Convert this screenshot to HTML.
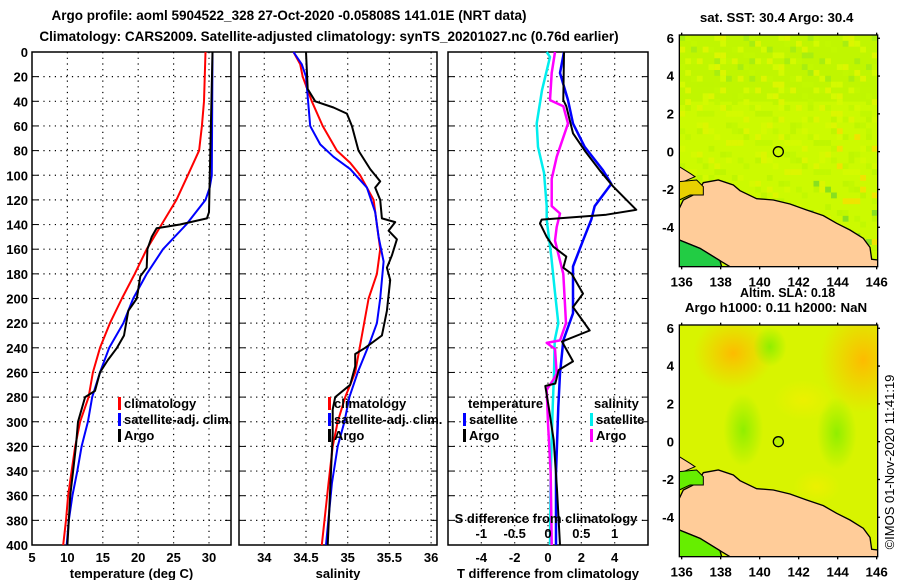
<!DOCTYPE html>
<html><head><meta charset="utf-8">
<style>
html,body{margin:0;padding:0;background:#fff;}
svg{display:block;font-family:"Liberation Sans",sans-serif;font-weight:bold;}
</style></head>
<body>
<svg id="chart" width="900" height="580" viewBox="0 0 900 580" xmlns="http://www.w3.org/2000/svg">
<defs>
<radialGradient id="or1" cx="0.5" cy="0.5" r="0.5"><stop offset="0" stop-color="#ffb800" stop-opacity="0.95"/><stop offset="1" stop-color="#ffc000" stop-opacity="0"/></radialGradient>
<radialGradient id="gr1" cx="0.5" cy="0.5" r="0.5"><stop offset="0" stop-color="#88ee00" stop-opacity="0.9"/><stop offset="1" stop-color="#88ee00" stop-opacity="0"/></radialGradient>
<radialGradient id="ye1" cx="0.5" cy="0.5" r="0.5"><stop offset="0" stop-color="#eef000" stop-opacity="0.9"/><stop offset="1" stop-color="#eef000" stop-opacity="0"/></radialGradient>
<clipPath id="m1clip"><rect x="88" y="105" width="595" height="695"/></clipPath>
</defs>
<text x="289" y="20" font-size="13.5" text-anchor="middle">Argo profile: aoml 5904522_328 27-Oct-2020 -0.05808S 141.01E (NRT data)</text>
<text x="329" y="41" font-size="13.5" text-anchor="middle">Climatology: CARS2009. Satellite-adjusted climatology: synTS_20201027.nc (0.76d earlier)</text>
<g id="panels"></g>

<!-- Map 1 -->
<g transform="translate(650,0) scale(0.33333)">
  <text x="380" y="66" font-size="40" text-anchor="middle">sat. SST: 30.4 Argo: 30.4</text>
  <g clip-path="url(#m1clip)">
    <rect x="88" y="105" width="595" height="695" fill="#ccfa00"/>
    <rect x="88" y="105" width="595" height="200" fill="#b8f400" opacity="0.6"/>
    <g id="sstcells"></g>
    <path d="M88,625 L100,600 L130,585 L150,565 L160,548 L205,540 L250,555 L270,572 L320,596 L370,600 L420,612 L470,630 L520,647 L560,670 L600,690 L640,715 L660,742 L665,778 L683,780 L683,800 L240,800 L210,782 L150,745 L88,720 Z" fill="#ffcc99" stroke="#000" stroke-width="4"/>
    <path d="M88,720 L150,745 L210,782 L215,800 L88,800 Z" fill="#22cc44" stroke="#000" stroke-width="4"/>
    <path d="M88,500 L120,520 L135,530 L100,545 L88,545 Z" fill="#ffcc99" stroke="#000" stroke-width="3"/>
    <path d="M88,545 L140,540 L160,560 L160,585 L120,585 L88,600 Z" fill="#e8d000" stroke="#000" stroke-width="3"/>
  </g>
  <rect x="88" y="105" width="595" height="695" fill="none" stroke="#000" stroke-width="4"/>
  <circle cx="385" cy="455" r="15" fill="none" stroke="#000" stroke-width="4"/>
  <g id="m1axes"></g>
</g>
<text x="740" y="297" font-size="12.5">Altim. SLA: 0.18</text>

<!-- Map 2 -->
<g transform="translate(650,290) scale(0.33333)">
  <text x="378" y="66" font-size="40" text-anchor="middle">Argo h1000: 0.11 h2000: NaN</text>
  <g clip-path="url(#m1clip)">
    <rect x="88" y="105" width="595" height="695" fill="#d8f400"/>
    <ellipse cx="250" cy="190" rx="120" ry="110" fill="url(#or1)"/>
    <ellipse cx="640" cy="210" rx="130" ry="160" fill="url(#or1)"/>
    <ellipse cx="360" cy="170" rx="50" ry="60" fill="url(#gr1)"/>
    <ellipse cx="280" cy="420" rx="60" ry="110" fill="url(#gr1)"/>
    <ellipse cx="560" cy="430" rx="60" ry="110" fill="url(#gr1)"/>
    <ellipse cx="460" cy="330" rx="90" ry="60" fill="url(#ye1)"/>
    <ellipse cx="500" cy="590" rx="70" ry="50" fill="url(#ye1)"/>
    <path d="M88,625 L100,600 L130,585 L150,565 L160,548 L205,540 L250,555 L270,572 L320,596 L370,600 L420,612 L470,630 L520,647 L560,670 L600,690 L640,715 L660,742 L665,778 L683,780 L683,800 L240,800 L210,782 L150,745 L88,720 Z" fill="#ffcc99" stroke="#000" stroke-width="4"/>
    <path d="M88,720 L150,745 L210,782 L215,800 L88,800 Z" fill="#66ee00" stroke="#000" stroke-width="4"/>
    <path d="M88,500 L120,520 L135,530 L100,545 L88,545 Z" fill="#ffcc99" stroke="#000" stroke-width="3"/>
    <path d="M88,545 L140,540 L160,560 L160,585 L120,585 L88,600 Z" fill="#66ee00" stroke="#000" stroke-width="3"/>
  </g>
  <rect x="88" y="105" width="595" height="695" fill="none" stroke="#000" stroke-width="4"/>
  <circle cx="385" cy="455" r="15" fill="#b8f000" stroke="#000" stroke-width="4"/>
  <g id="m2axes"></g>
</g>
<text transform="translate(894,462) rotate(-90)" font-size="13" font-weight="normal" text-anchor="middle">©IMOS 01-Nov-2020 11:41:19</text>
</svg>
<script>
// ---- data ----
var depthTicks = [0,20,40,60,80,100,120,140,160,180,200,220,240,260,280,300,320,340,360,380,400];
var tempTicks = [5,10,15,20,25,30];
var salTicks = [34,34.5,35,35.5,36];
var tdiffTicks = [-4,-2,0,2,4];
var sdiffTicks = [-1,-0.5,0,0.5,1];
var sdiffTickLabels = ["-1","-0.5","0","0.5","1"];

var climTDepth = [0,40,60,80,100,120,140,160,180,200,220,240,260,280,300,320,340,360,380,400];
var climTVal   = [29.5,29.3,29.0,28.6,27.0,25.4,23.3,21.2,19.5,17.7,16.0,14.6,13.6,13.0,11.8,11.1,10.6,10.1,9.8,9.4];
var satTDepth = [0,100,110,120,140,160,180,200,220,240,260,280,300,320,340,360,380,400];
var satTVal   = [30.5,30.4,30.1,29.5,26.8,23.5,21.2,19.3,17.9,15.9,14.6,13.5,12.9,12.0,11.4,10.7,10.2,9.9];
var argoTDepth = [0,130,135,140,143,150,160,175,182,200,210,230,240,250,260,275,280,300,320,340,360,380,400];
var argoTVal   = [30.5,30.0,29.7,25.9,22.6,21.9,21.3,21.2,20.3,19.8,18.6,18.0,17.0,15.7,14.6,13.9,12.5,11.5,11.2,10.8,10.4,10.2,10.0];

var climSDepth = [0,10,20,40,60,80,90,100,120,140,160,180,200,230,260,280,300,320,350,400];
var climSVal   = [34.35,34.43,34.46,34.57,34.70,34.87,35.03,35.15,35.31,35.35,35.39,35.35,35.25,35.17,35.09,34.97,34.88,34.82,34.77,34.69];
var satSDepth = [0,10,20,60,75,85,95,110,130,150,170,200,220,235,260,280,300,320,350,400];
var satSVal   = [34.35,34.45,34.50,34.55,34.67,34.83,35.03,35.23,35.33,35.37,35.43,35.39,35.35,35.27,35.12,35.02,34.96,34.88,34.81,34.74];
var argoSDepth = [0,30,40,45,50,60,80,95,105,110,120,135,138,145,152,165,175,185,210,230,240,245,255,270,280,290,310,340,400];
var argoSVal   = [34.50,34.52,34.61,34.83,34.99,35.05,35.13,35.27,35.39,35.33,35.39,35.41,35.57,35.49,35.59,35.53,35.47,35.51,35.47,35.41,35.21,35.09,35.09,35.03,34.85,34.82,34.82,34.80,34.76];

var dTSatDepth = [0,17,39,58,77,96,107,125,136,153,174,212,234,261,288,342,400];
var dTSatVal   = [0.96,0.72,1.2,1.5,2.2,3.3,3.8,2.8,2.6,2.1,1.5,1.5,0.92,0.72,0.62,0.48,0.48];
var dTArgoDepth = [0,39,44,66,80,96,109,128,132,136,139,150,158,166,175,180,196,207,226,235,251,258,269,271,288,315,355,400];
var dTArgoVal   = [0.96,0.92,1.1,1.5,2.2,3.1,3.9,5.3,3.5,-0.38,-0.48,-0.08,0.32,1.1,0.92,1.42,2.1,1.5,2.5,0.84,1.5,0.64,0.44,-0.16,0.04,0.34,0.54,0.72];
var dSSatDepth = [0,4,31,58,77,98,125,136,166,193,220,234,261,288,342,400];
var dSSatVal   = [-0.02,0.03,-0.09,-0.17,-0.15,-0.06,-0.02,-0.02,0.05,0.10,0.155,0.10,0.09,0.07,0.04,0.03];
var dSArgoDepth = [0,17,39,44,58,85,103,125,131,142,153,180,220,234,236,241,261,266,274,301,342,400];
var dSArgoVal   = [0.105,0.055,0.03,0.23,0.30,0.13,0.055,0.055,0.18,0.13,0.105,0.23,0.27,0.18,-0.02,0.105,0.13,0.08,-0.02,0.0,0.04,0.055];

var lonTicks = [136,138,140,142,144,146];
var latTicks = [6,4,2,0,-2,-4];

// ---- geometry ----
var NS = "http://www.w3.org/2000/svg";
var TOP = 52, BOT = 545;
function yD(d){ return TOP + (d/400)*(BOT-TOP); }
function mk(tag, attrs, parent){
  var e = document.createElementNS(NS, tag);
  for (var k in attrs) e.setAttribute(k, attrs[k]);
  (parent || document.getElementById('panels')).appendChild(e);
  return e;
}
var panels = [
  {name:'temperature-panel', x0:32, x1:231, vmin:5, vmax:5+199/7.08, ticks:tempTicks, title:'temperature (deg C)'},
  {name:'salinity-panel', x0:239, x1:437, vmin:34-25.3/83.4, vmax:34-25.3/83.4+198/83.4, ticks:salTicks, title:'salinity'},
  {name:'difference-panel', x0:448, x1:648, vmin:-6, vmax:6, ticks:tdiffTicks, title:'T difference from climatology'}
];
function xf(p){ return function(v){ return p.x0 + (v-p.vmin)/(p.vmax-p.vmin)*(p.x1-p.x0); }; }
var xT = xf(panels[0]), xS = xf(panels[1]), xDT = xf(panels[2]);
function xDS(v){ return xDT(v*4); }

panels.forEach(function(p, i){
  var g = mk('g', {});
  
  
  var x = xf(p);
  depthTicks.forEach(function(d){
    if (d>0 && d<400){
      var l = mk('line', {x1:p.x0, x2:p.x1, y1:yD(d), y2:yD(d), stroke:'#000', 'stroke-width':1.2, 'stroke-dasharray':'1.2,4.5'}, g);
      
      
    }
    mk('line', {x1:p.x0, x2:p.x0+6, y1:yD(d), y2:yD(d), stroke:'#000', 'stroke-width':1}, g);
    mk('line', {x1:p.x1-6, x2:p.x1, y1:yD(d), y2:yD(d), stroke:'#000', 'stroke-width':1}, g);
    if (i===0){
      var t = mk('text', {x:28, y:yD(d)+5, 'font-size':13, 'text-anchor':'end'}, g);
      t.textContent = d;
      
      
    }
  });
  p.ticks.forEach(function(v){
    var xx = x(v);
    if (xx>p.x0+1 && xx<p.x1-1){
      var l = mk('line', {x1:xx, x2:xx, y1:TOP, y2:BOT, stroke:'#000', 'stroke-width':1.2, 'stroke-dasharray':'1.2,4.5'}, g);
      
      
    }
    var t = mk('text', {x:xx, y:562, 'font-size':13, 'text-anchor':'middle'}, g);
    t.textContent = v;
    
    
  });
  var r = mk('rect', {x:p.x0, y:TOP, width:p.x1-p.x0, height:BOT-TOP, fill:'none', stroke:'#000', 'stroke-width':1.5}, g);
  
  
  var tt = mk('text', {x:(p.x0+p.x1)/2, y:578, 'font-size':13, 'text-anchor':'middle'}, g);
  tt.textContent = p.title;
  
  
});

function line(depths, vals, xfun, color, w, name){
  var pts = depths.map(function(d, i){ return xfun(vals[i]).toFixed(1)+','+yD(d).toFixed(1); }).join(' ');
  var pl = mk('polyline', {points:pts, fill:'none', stroke:color, 'stroke-width':w, 'stroke-linejoin':'round'});
  
  
}
line(climTDepth, climTVal, xT, '#ff0000', 2, 'temp-climatology-line');
line(satTDepth, satTVal, xT, '#0000ff', 2, 'temp-satellite-line');
line(argoTDepth, argoTVal, xT, '#000000', 2, 'temp-argo-line');
line(climSDepth, climSVal, xS, '#ff0000', 2, 'sal-climatology-line');
line(satSDepth, satSVal, xS, '#0000ff', 2, 'sal-satellite-line');
line(argoSDepth, argoSVal, xS, '#000000', 2, 'sal-argo-line');
line(dSSatDepth, dSSatVal, xDS, '#00eeee', 2.5, 'sdiff-satellite-line');
line(dSArgoDepth, dSArgoVal, xDS, '#ff00ff', 2.5, 'sdiff-argo-line');
line(dTSatDepth, dTSatVal, xDT, '#0000ff', 2.5, 'tdiff-satellite-line');
line(dTArgoDepth, dTArgoVal, xDT, '#000000', 2, 'tdiff-argo-line');

// S-diff axis labels inside panel 3
var st = mk('text', {x:546, y:523, 'font-size':13, 'text-anchor':'middle'});
st.textContent = 'S difference from climatology';


sdiffTicks.forEach(function(v, i){
  var t = mk('text', {x:xDS(v), y:538, 'font-size':13, 'text-anchor':'middle'});
  t.textContent = sdiffTickLabels[i];
  
  
});

// legends
function legend(x, y, color, label, name){
  var r = mk('rect', {x:x, y:y-11, width:3, height:13, fill:color});
  
  
  var t = mk('text', {x:x+6, y:y, 'font-size':13});
  t.textContent = label;
  
  
}
legend(118, 408, '#ff0000', 'climatology', 'legend-temp-climatology');
legend(118, 424, '#0000ff', 'satellite-adj. clim.', 'legend-temp-satellite');
legend(118, 440, '#000000', 'Argo', 'legend-temp-argo');
legend(328, 408, '#ff0000', 'climatology', 'legend-sal-climatology');
legend(328, 424, '#0000ff', 'satellite-adj. clim.', 'legend-sal-satellite');
legend(328, 440, '#000000', 'Argo', 'legend-sal-argo');
var lt = mk('text', {x:468, y:408, 'font-size':13});
lt.textContent = 'temperature';


var ls = mk('text', {x:594, y:408, 'font-size':13});
ls.textContent = 'salinity';


legend(463, 424, '#0000ff', 'satellite', 'legend-tdiff-satellite');
legend(463, 440, '#000000', 'Argo', 'legend-tdiff-argo');
legend(590, 424, '#00eeee', 'satellite', 'legend-sdiff-satellite');
legend(590, 440, '#ff00ff', 'Argo', 'legend-sdiff-argo');

// map axes (in 3x zoom coordinates)
function lonX(l){ return 95 + (l-136)*58.5; }
function latY(l){ return 455 - l*56.7; }
['m1axes','m2axes'].forEach(function(id){
  var g = document.getElementById(id);
  lonTicks.forEach(function(l){
    mk('line', {x1:lonX(l), x2:lonX(l), y1:98, y2:105, stroke:'#000', 'stroke-width':4}, g);
    mk('line', {x1:lonX(l), x2:lonX(l), y1:800, y2:808, stroke:'#000', 'stroke-width':4}, g);
    var t = mk('text', {x:lonX(l), y:860, 'font-size':40, 'text-anchor':'middle'}, g);
    t.textContent = l;
    
    
  });
  latTicks.forEach(function(l){
    mk('line', {x1:683, x2:690, y1:latY(l), y2:latY(l), stroke:'#000', 'stroke-width':4}, g);
    var t = mk('text', {x:72, y:latY(l)+14, 'font-size':40, 'text-anchor':'end'}, g);
    t.textContent = l;
    
    
  });
});
// SST texture: subtle deterministic patches
var sg = document.getElementById('sstcells');
var patchCols = ['#bff600','#d4fa00','#c2f800','#dcf600','#b8f200'];
for (var r=0; r<40; r++){
  for (var c=0; c<34; c++){
    var k = (r*7 + c*13 + (r*c)%5) % 11;
    if (k<4){
      var fill = patchCols[k];
      if (r<8 && k===0) fill = '#a8ee10';
      if (r>24 && c>20 && k===1) fill = '#88e020';
      if (r>15 && c>25 && k===3) fill = '#f0e400';
      mk('rect', {x:88+c*17.5, y:105+r*17.5, width:17.5, height:17.5, fill:fill}, sg);
    }
  }
}
</script>
</body></html>
